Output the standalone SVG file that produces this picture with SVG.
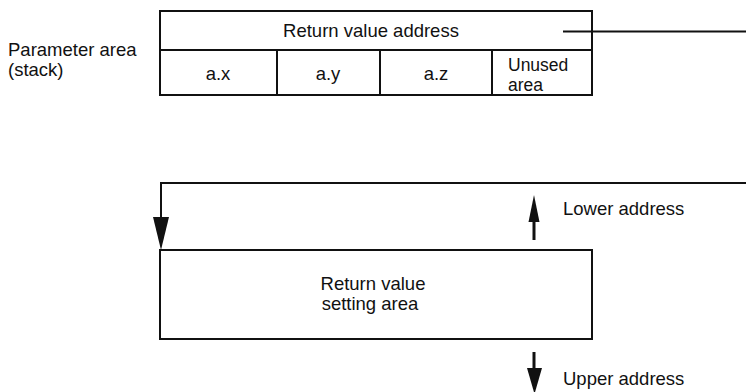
<svg xmlns="http://www.w3.org/2000/svg" width="746" height="392" viewBox="0 0 746 392">
<style>
text{font-family:"Liberation Sans",Arial,sans-serif;font-size:18.5px;fill:#111}
.m{text-anchor:middle}
.s{font-size:17.5px}
.b{fill:#fff;stroke:#111;stroke-width:2}
.l{stroke:#111;stroke-width:2;fill:none}
.h{fill:#111}
</style>
<rect width="746" height="392" fill="#fff"/>
<g id="label-param">
<text x="8" y="56">Parameter area</text>
<text x="8" y="76">(stack)</text>
</g>
<g id="param-area">
<rect class="b" x="160" y="11" width="432" height="84"/>
<line class="l" x1="160" y1="50" x2="592" y2="50"/>
<line class="l" x1="277" y1="50" x2="277" y2="95"/>
<line class="l" x1="380" y1="50" x2="380" y2="95"/>
<line class="l" x1="492" y1="50" x2="492" y2="95"/>
<text class="m" x="371" y="37">Return value address</text>
<text class="m" x="218" y="80">a.x</text>
<text class="m" x="328" y="80">a.y</text>
<text class="m" x="436" y="80">a.z</text>
<text class="s" x="508" y="71">Unused</text>
<text class="s" x="508" y="91">area</text>
</g>
<g id="setting-area">
<rect class="b" x="160" y="250" width="432" height="89"/>
<text class="m" x="373" y="290">Return value</text>
<text class="m" x="370" y="310">setting area</text>
</g>
<g id="connectors">
<line class="l" x1="563" y1="31.5" x2="746" y2="31.5"/>
<polyline class="l" points="746,183 161,183 161,220"/>
<polygon class="h" points="153,217 169,217 161,250"/>
<line class="l" x1="534" y1="240" x2="534" y2="220" style="stroke-width:3"/>
<polygon class="h" points="528.5,222 539.5,222 534,195"/>
<line class="l" x1="534" y1="352" x2="534" y2="370" style="stroke-width:3"/>
<polygon class="h" points="527,368 542,368 534.5,394"/>
</g>
<g id="labels">
<text x="563" y="215">Lower address</text>
<text x="563" y="385">Upper address</text>
</g>
</svg>
